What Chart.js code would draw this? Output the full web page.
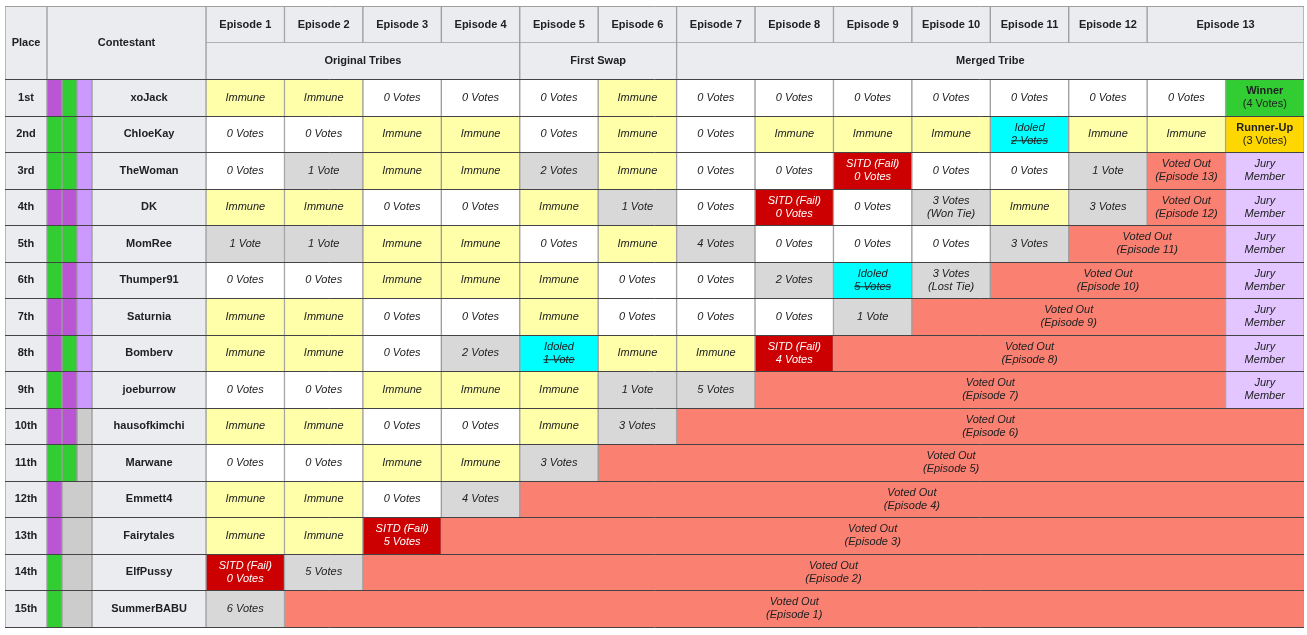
<!DOCTYPE html>
<html>
<head>
<meta charset="utf-8">
<script src="https://cdn.jsdelivr.net/npm/chart.js@4.4.1/dist/chart.umd.min.js"></script>
<style>
  html, body { margin: 0; background: #fff; }
  #wrap { width: 1307px; height: 635px; }
</style>
</head>
<body>
<div id="wrap"><canvas id="board"></canvas></div>
<script>
// ---- data ----
const places = ['1st', '2nd', '3rd', '4th', '5th', '6th', '7th', '8th', '9th', '10th', '11th', '12th', '13th', '14th', '15th'];
const contestants = ['xoJack', 'ChloeKay', 'TheWoman', 'DK', 'MomRee', 'Thumper91', 'Saturnia', 'Bomberv', 'joeburrow', 'hausofkimchi', 'Marwane', 'Emmett4', 'Fairytales', 'ElfPussy', 'SummerBABU'];
const originalTribe = ['Purple', 'Green', 'Green', 'Purple', 'Green', 'Green', 'Purple', 'Purple', 'Green', 'Purple', 'Green', 'Purple', 'Purple', 'Green', 'Green'];
const swapTribe = ['Green', 'Green', 'Green', 'Purple', 'Green', 'Purple', 'Purple', 'Green', 'Purple', 'Purple', 'Green', null, null, null, null];
const mergedTribe = [true, true, true, true, true, true, true, true, true, false, false, false, false, false, false];

const episodes = ['Episode 1', 'Episode 2', 'Episode 3', 'Episode 4', 'Episode 5', 'Episode 6', 'Episode 7', 'Episode 8', 'Episode 9', 'Episode 10', 'Episode 11', 'Episode 12', 'Episode 13'];
const phases = ['Original Tribes', 'First Swap', 'Merged Tribe'];
const phaseStart = [1, 5, 7];

const votes = [
  ['Immune', 'Immune', '0 Votes', '0 Votes', '0 Votes', 'Immune', '0 Votes', '0 Votes', '0 Votes', '0 Votes', '0 Votes', '0 Votes', '0 Votes'],
  ['0 Votes', '0 Votes', 'Immune', 'Immune', '0 Votes', 'Immune', '0 Votes', 'Immune', 'Immune', 'Immune', 'Idoled\n2 Votes', 'Immune', 'Immune'],
  ['0 Votes', '1 Vote', 'Immune', 'Immune', '2 Votes', 'Immune', '0 Votes', '0 Votes', 'SITD (Fail)\n0 Votes', '0 Votes', '0 Votes', '1 Vote'],
  ['Immune', 'Immune', '0 Votes', '0 Votes', 'Immune', '1 Vote', '0 Votes', 'SITD (Fail)\n0 Votes', '0 Votes', '3 Votes\n(Won Tie)', 'Immune', '3 Votes'],
  ['1 Vote', '1 Vote', 'Immune', 'Immune', '0 Votes', 'Immune', '4 Votes', '0 Votes', '0 Votes', '0 Votes', '3 Votes'],
  ['0 Votes', '0 Votes', 'Immune', 'Immune', 'Immune', '0 Votes', '0 Votes', '2 Votes', 'Idoled\n5 Votes', '3 Votes\n(Lost Tie)'],
  ['Immune', 'Immune', '0 Votes', '0 Votes', 'Immune', '0 Votes', '0 Votes', '0 Votes', '1 Vote'],
  ['Immune', 'Immune', '0 Votes', '2 Votes', 'Idoled\n1 Vote', 'Immune', 'Immune', 'SITD (Fail)\n4 Votes'],
  ['0 Votes', '0 Votes', 'Immune', 'Immune', 'Immune', '1 Vote', '5 Votes'],
  ['Immune', 'Immune', '0 Votes', '0 Votes', 'Immune', '3 Votes'],
  ['0 Votes', '0 Votes', 'Immune', 'Immune', '3 Votes'],
  ['Immune', 'Immune', '0 Votes', '4 Votes'],
  ['Immune', 'Immune', 'SITD (Fail)\n5 Votes'],
  ['SITD (Fail)\n0 Votes', '5 Votes'],
  ['6 Votes']
];
const eliminatedIn = [null, null, 13, 12, 11, 10, 9, 8, 7, 6, 5, 4, 3, 2, 1];
const finalResult = ['Winner', 'Runner-Up', 'Jury', 'Jury', 'Jury', 'Jury', 'Jury', 'Jury', 'Jury', null, null, null, null, null, null];
const finalVotes = [4, 3];

// ---- layout & style ----
const colWidths = [42, 15, 15, 15, 114].concat(Array(14).fill(78.4));
const edges = [0];
colWidths.forEach(w => edges.push(edges[edges.length - 1] + w));
const total = edges[edges.length - 1];

const tribeColor = { Purple: '#BA55D3', Green: '#32CD32', merged: '#CC99FF', none: '#CCCCCC' };
const HEAD = '#EAECF0';
const INK = '#202122';

function styleFor(text) {
  if (text.startsWith('Immune')) return { fill: '#FFFFAA', ink: INK };
  if (text.startsWith('SITD')) return { fill: '#CC0000', ink: '#FFFFFF' };
  if (text.startsWith('Idoled')) return { fill: '#00FFFF', ink: INK, strike: 1 };
  if (text.startsWith('Voted Out')) return { fill: '#FA8072', ink: INK };
  if (text.startsWith('0 Votes')) return { fill: '#FFFFFF', ink: INK };
  return { fill: '#D8D8D8', ink: INK };
}

const rowLabels = ['header', 'phase'].concat(contestants);
const cells = [];
const sideBorders = { left: 1, right: 1, top: 0, bottom: 0 };

function addCell(c0, c1, row, fill, lines, extra) {
  cells.push(Object.assign({ x: [edges[c0], edges[c1]], y: rowLabels[row], fill, lines, ink: INK }, extra || {}));
}
const bold = t => ({ t, f: 'bold' });
const ital = t => ({ t, f: 'italic' });

// header rows: Place / Contestant cover both rows
addCell(0, 1, 0, HEAD, [bold('Place')], { span2: true });
addCell(0, 1, 1, HEAD, []);
addCell(1, 5, 0, HEAD, [bold('Contestant')], { span2: true });
addCell(1, 5, 1, HEAD, []);
episodes.forEach((ep, k) => {
  const last = k === episodes.length - 1;
  addCell(5 + k, last ? edges.length - 1 : 6 + k, 0, HEAD, [bold(ep)], { bw: { left: 1, right: 1, top: 0, bottom: 1 } });
});
phases.forEach((ph, p) => {
  const c0 = 5 + phaseStart[p] - 1;
  const c1 = p < phases.length - 1 ? 5 + phaseStart[p + 1] - 1 : edges.length - 1;
  addCell(c0, c1, 1, HEAD, [bold(ph)]);
});

// contestant rows
contestants.forEach((name, r) => {
  const row = r + 2;
  addCell(0, 1, row, HEAD, [bold(places[r])]);
  addCell(1, 2, row, tribeColor[originalTribe[r]], []);
  if (swapTribe[r] === null) {
    addCell(2, 4, row, tribeColor.none, []);
  } else {
    addCell(2, 3, row, tribeColor[swapTribe[r]], []);
    addCell(3, 4, row, mergedTribe[r] ? tribeColor.merged : tribeColor.none, []);
  }
  addCell(4, 5, row, HEAD, [bold(name)]);

  votes[r].forEach((v, k) => {
    const st = styleFor(v);
    const lines = v.split('\n').map((t, j) => ({ t, f: 'italic', strike: st.strike && j === 1 }));
    addCell(5 + k, 6 + k, row, st.fill, lines, { ink: st.ink });
  });

  const lastCol = edges.length - 1;
  if (eliminatedIn[r] !== null) {
    const st = styleFor('Voted Out');
    const c0 = 5 + votes[r].length;
    const c1 = finalResult[r] ? lastCol - 1 : lastCol;
    addCell(c0, c1, row, st.fill, [ital('Voted Out'), ital('(Episode ' + eliminatedIn[r] + ')')]);
  }
  const res = finalResult[r];
  if (res === 'Winner') {
    addCell(lastCol - 1, lastCol, row, '#32CD32', [bold('Winner'), { t: '(' + finalVotes[r] + ' Votes)', f: 'normal' }]);
  } else if (res === 'Runner-Up') {
    addCell(lastCol - 1, lastCol, row, '#FFD700', [bold('Runner-Up'), { t: '(' + finalVotes[r] + ' Votes)', f: 'normal' }]);
  } else if (res === 'Jury') {
    addCell(lastCol - 1, lastCol, row, '#E3C6FF', [ital('Jury'), ital('Member')]);
  }
});

// ---- text plugin ----
const cellText = {
  id: 'cellText',
  afterDatasetsDraw(chart) {
    const ctx = chart.ctx;
    const meta = chart.getDatasetMeta(0);
    const data = chart.data.datasets[0].data;
    ctx.save();
    ctx.textAlign = 'center';
    ctx.textBaseline = 'middle';
    meta.data.forEach((el, i) => {
      const cell = data[i];
      const cx = (el.x + el.base) / 2;
      const cy = el.y + (cell.span2 ? el.height / 2 : 0);
      const n = cell.lines.length;
      cell.lines.forEach((ln, j) => {
        const y = cy + (j - (n - 1) / 2) * 13;
        const f = ln.f === 'bold' ? 'bold ' : ln.f === 'italic' ? 'italic ' : '';
        ctx.font = f + '11px "Liberation Sans", Arial, sans-serif';
        ctx.fillStyle = cell.ink;
        ctx.fillText(ln.t, cx, y);
        if (ln.strike) {
          const w = ctx.measureText(ln.t).width;
          ctx.fillRect(cx - w / 2, y - 0.5, w, 1);
        }
      });
    });
    ctx.restore();
  }
};

new Chart(document.getElementById('board'), {
  type: 'bar',
  data: {
    labels: rowLabels,
    datasets: [{
      data: cells,
      backgroundColor: c => (c.raw ? c.raw.fill : HEAD),
      borderColor: '#9E9E9E',
      borderWidth: c => (c.raw && c.raw.bw) || sideBorders,
      borderSkipped: false,
      barPercentage: 1,
      categoryPercentage: 1
    }]
  },
  options: {
    indexAxis: 'y',
    responsive: true,
    maintainAspectRatio: false,
    animation: false,
    events: [],
    // 17 rows of 36.5px, so the header seam falls on a whole pixel
    layout: { padding: { left: 5, right: 3, top: 6.5, bottom: 8 } },
    plugins: { legend: { display: false }, tooltip: { enabled: false } },
    scales: {
      x: { type: 'linear', display: false, min: 0, max: total },
      y: {
        type: 'category',
        offset: true,
        grid: {
          z: 1,
          offset: true,
          drawTicks: false,
          lineWidth: 1,
          color: c => (c.index === 1 ? 'rgba(0,0,0,0)' : c.index === 0 ? '#9E9E9E' : '#444444')
        },
        border: { display: false },
        ticks: { display: false, autoSkip: false },
        afterFit(s) { s.width = 0; }
      }
    }
  },
  plugins: [cellText]
});
</script>
</body>
</html>
